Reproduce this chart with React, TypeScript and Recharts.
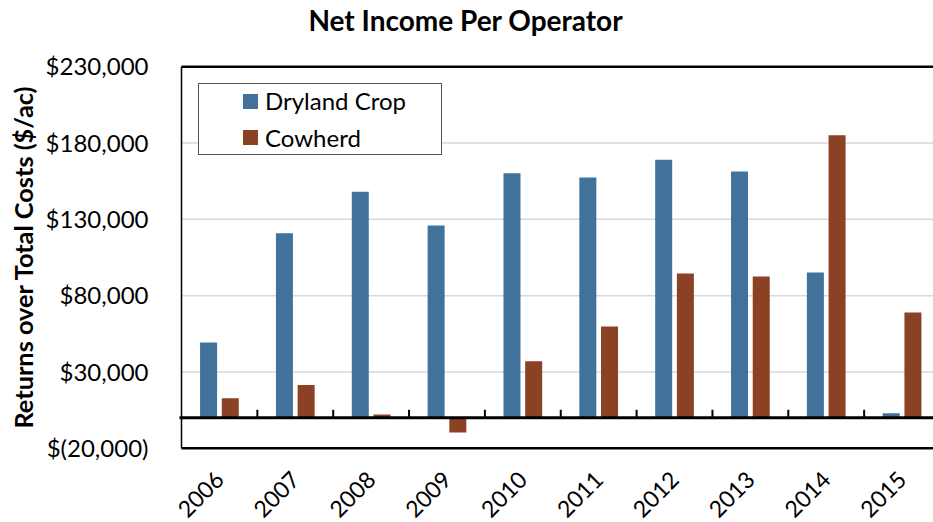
import React from 'react';
import { BarChart, Bar, XAxis, YAxis, CartesianGrid, ReferenceLine, Legend } from 'recharts';

const years = ['2006', '2007', '2008', '2009', '2010', '2011', '2012', '2013', '2014', '2015'];
const drylandCrop = [49300, 120900, 148000, 126000, 160200, 157400, 169000, 161300, 95100, 3000];
const cowherd = [12800, 21500, 2100, -9700, 37000, 59800, 94500, 92500, 185100, 68900];
const yTicks = [-20000, 30000, 80000, 130000, 180000, 230000];
const seriesNames = ['Dryland Crop', 'Cowherd'];
const seriesColors = ['#41729b', '#8b4124'];
const titleText = 'Net Income Per Operator';
const yLabelText = 'Returns over Total Costs ($/ac)';

const data = years.map((year, i) => ({ year, dryland: drylandCrop[i], cowherd: cowherd[i] }));

const FONT = 'Lato, "Open Sans", sans-serif';

const fmt = (v: number) => {
  const s = Math.abs(v).toLocaleString('en-US');
  return v < 0 ? `$(${s})` : `$${s}`;
};

const XTick = (props: any) => {
  const { x, y, payload } = props;
  const ax = x + 6;
  const ay = y + 33;
  return (
    <text x={ax} y={ay} transform={`rotate(-45, ${ax}, ${ay})`} textAnchor="end" fontSize={23} fontFamily={FONT} fill="#000">
      {payload.value}
    </text>
  );
};

const ZeroLine = (props: any) => {
  const { x1, y1, x2 } = props;
  const n = years.length;
  const step = (x2 - x1) / n;
  const ticks = [];
  for (let i = 1; i <= n; i++) {
    const tx = x1 + step * i;
    ticks.push(<line key={i} x1={tx} x2={tx} y1={y1} y2={y1 - 8} stroke="#000" strokeWidth={2} />);
  }
  return (
    <g>
      <line x1={x1 - 2} x2={x2} y1={y1} y2={y1} stroke="#000" strokeWidth={3} />
      {ticks}
    </g>
  );
};

const LegendBox = () => (
  <div
    style={{
      width: 244,
      height: 72,
      border: '1.5px solid #555',
      background: '#fff',
      boxSizing: 'border-box',
      position: 'relative',
      fontFamily: FONT,
      fontSize: 24,
      color: '#000',
    }}
  >
    {seriesNames.map((name, i) => (
      <div key={name} style={{ position: 'absolute', left: 44, top: 3 + i * 36.5, height: 28, display: 'flex', alignItems: 'center' }}>
        <span style={{ display: 'inline-block', width: 15, height: 15, background: seriesColors[i], marginRight: 7 }} />
        <span style={{ lineHeight: '28px' }}>{name}</span>
      </div>
    ))}
  </div>
);

export default function App() {
  return (
    <div style={{ position: 'fixed', left: 0, top: 0, width: 933, height: 522, overflow: 'hidden', background: '#fff' }}>
      <div
        style={{
          position: 'absolute',
          left: 0,
          width: 931,
          top: 3,
          textAlign: 'center',
          fontFamily: FONT,
          fontWeight: 700,
          fontSize: 28,
          lineHeight: '34px',
          color: '#000',
        }}
      >
        {titleText}
      </div>
      <BarChart
        width={960}
        height={522}
        data={data}
        margin={{ top: 66.7, right: 20, bottom: 0, left: 0 }}
        barCategoryGap="24.5%"
        barGap={4.7}
      >
        <CartesianGrid vertical={false} stroke="#d9d9d9" strokeWidth={1.5} />
        <XAxis
          dataKey="year"
          height={73.7}
          axisLine={{ stroke: '#000', strokeWidth: 2.5 }}
          tickLine={false}
          tickSize={0}
          tickMargin={0}
          tick={<XTick />}
          interval={0}
        />
        <YAxis
          width={181.5}
          domain={[-20000, 230000]}
          ticks={yTicks}
          tickFormatter={fmt}
          axisLine={{ stroke: '#000', strokeWidth: 1.5 }}
          tickLine={false}
          tickSize={0}
          tickMargin={33}
          tick={{ fill: '#000', fontSize: 24, fontFamily: FONT }}
          allowDataOverflow
          label={{
            value: yLabelText,
            angle: -90,
            position: 'insideLeft',
            offset: 24,
            style: { textAnchor: 'middle', fontFamily: FONT, fontWeight: 700, fontSize: 25.3, fill: '#000' },
          }}
        />
        <Legend
          layout="vertical"
          align="center"
          verticalAlign="middle"
          content={<LegendBox />}
          wrapperStyle={{ left: 198, top: 83, width: 244, height: 72 }}
        />
        <Bar dataKey="dryland" name={seriesNames[0]} fill={seriesColors[0]} isAnimationActive={false} />
        <Bar dataKey="cowherd" name={seriesNames[1]} fill={seriesColors[1]} isAnimationActive={false} />
        <ReferenceLine y={230000} stroke="#000" strokeWidth={2.5} />
        <ReferenceLine y={0} shape={<ZeroLine />} />
      </BarChart>
    </div>
  );
}
